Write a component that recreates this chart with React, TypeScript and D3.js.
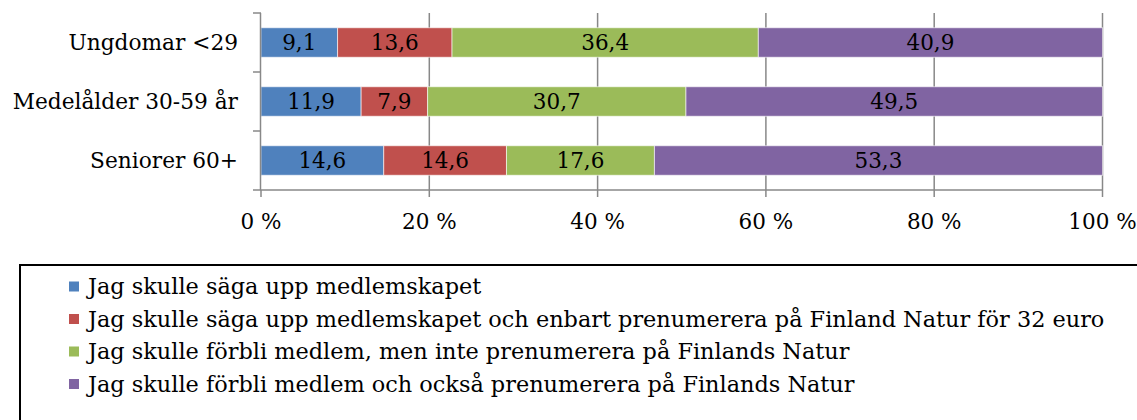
import React from "react";
import * as d3 from "d3";

const categories = ["Ungdomar <29", "Medelålder 30-59 år", "Seniorer 60+"];
const seriesNames = [
  "Jag skulle säga upp medlemskapet",
  "Jag skulle säga upp medlemskapet och enbart prenumerera på Finland Natur för 32 euro",
  "Jag skulle förbli medlem, men inte prenumerera på Finlands Natur",
  "Jag skulle förbli medlem och också prenumerera på Finlands Natur",
];
const seriesColors = ["#4F81BD", "#C0504D", "#9BBB59", "#8064A2"];
const values = [
  [9.1, 13.6, 36.4, 40.9],
  [11.9, 7.9, 30.7, 49.5],
  [14.6, 14.6, 17.6, 53.3],
];
const xTicks = [0, 20, 40, 60, 80, 100];

const FONT = "'DejaVu Serif', 'Liberation Serif', serif";

export default function App() {
  const W = 1137;
  const H = 420;
  const x = d3.scaleLinear().domain([0, 100]).range([261, 1102.5]);
  const y = d3.scaleBand<string>().domain(categories).range([13, 190]).paddingInner(0.5).paddingOuter(0.25);
  const axisTop = 13;
  const axisBottom = 190;

  const stacked = values.map((row) => {
    const total = d3.sum(row);
    let acc = 0;
    return row.map((v) => {
      const p = (v / total) * 100;
      const s = { x0: acc, x1: acc + p, v };
      acc += p;
      return s;
    });
  });

  const bandEdges = d3.range(categories.length + 1).map((i) => axisTop + (i * (axisBottom - axisTop)) / categories.length);

  return (
    <svg width={W} height={H} style={{ display: "block", position: "absolute", left: 0, top: 0, fontFamily: FONT }}>
      <rect x={0} y={0} width={W} height={H} fill="#fff" />
      {xTicks.slice(1).map((t) => (
        <line key={"g" + t} x1={x(t)} x2={x(t)} y1={axisTop} y2={axisBottom} stroke="#888888" strokeWidth={1.5} />
      ))}
      {categories.map((c, i) => (
        <g key={c}>
          {stacked[i].map((s, j) => (
            <rect
              key={j}
              x={x(s.x0)}
              y={y(c)!}
              width={x(s.x1) - x(s.x0)}
              height={y.bandwidth()}
              fill={seriesColors[j]}
              stroke="#ffffff"
              strokeOpacity={0.6}
              strokeWidth={1}
            />
          ))}
          {stacked[i].map((s, j) => (
            <text
              key={"t" + j}
              x={(x(s.x0) + x(s.x1)) / 2}
              y={y(c)! + y.bandwidth() / 2 + 7.5}
              textAnchor="middle"
              fontSize={21.5}
              fill="#000"
            >
              {String(s.v).replace(".", ",")}
            </text>
          ))}
          <text x={238} y={y(c)! + y.bandwidth() / 2 + 7.5} textAnchor="end" fontSize={21.7} fill="#000">
            {c}
          </text>
        </g>
      ))}
      <line x1={260.5} x2={260.5} y1={axisTop} y2={axisBottom} stroke="#888888" strokeWidth={1.5} />
      {bandEdges.map((e, i) => (
        <line key={"yt" + i} x1={253} x2={261} y1={e} y2={e} stroke="#888888" strokeWidth={1.5} />
      ))}
      <line x1={260.5} x2={x(100)} y1={axisBottom} y2={axisBottom} stroke="#888888" strokeWidth={1.5} />
      {xTicks.map((t) => (
        <g key={"xt" + t}>
          <line x1={x(t)} x2={x(t)} y1={axisBottom} y2={axisBottom + 7} stroke="#888888" strokeWidth={1.5} />
          <text x={x(t)} y={229} textAnchor="middle" fontSize={21.5} fill="#000">
            {t + " %"}
          </text>
        </g>
      ))}
      <rect x={20} y={265} width={1130} height={170} fill="none" stroke="#000" strokeWidth={2} />
      {seriesNames.map((n, i) => (
        <g key={n}>
          <rect x={69} y={281.5 + i * 32.5} width={10} height={10} fill={seriesColors[i]} />
          <text x={88} y={294 + i * 32.5} fontSize={22.4} fill="#000">
            {n}
          </text>
        </g>
      ))}
    </svg>
  );
}
